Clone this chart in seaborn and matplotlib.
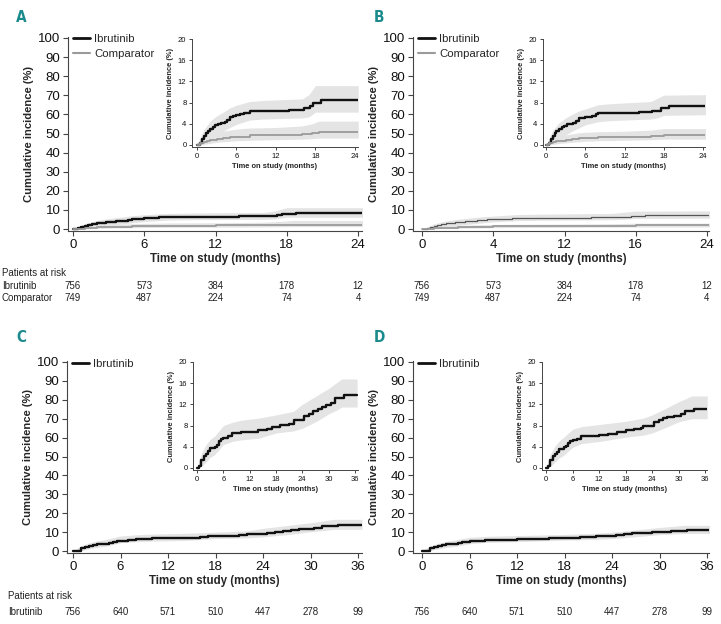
import numpy as np
import pandas as pd
import seaborn as sns
import matplotlib.pyplot as plt
from matplotlib.transforms import blended_transform_factory
from matplotlib.lines import Line2D

sns.set_style("ticks")
plt.rcParams['font.family'] = ['Liberation Sans', 'DejaVu Sans']

# ---------------- data ----------------
# Panel A
A_ibr_t = [0, 0.4, 0.7, 1.0, 1.3, 1.6, 2.0, 2.4, 2.8, 3.2, 3.6, 4.2, 4.6, 5.0, 5.5, 6.0, 6.6, 7.2, 8.0, 14.0, 16.2, 17.2, 17.6, 18.8, 24.5]
A_ibr_y = [0, 0.4, 1.1, 1.7, 2.2, 2.6, 3.0, 3.3, 3.7, 3.9, 4.1, 4.3, 4.8, 5.2, 5.4, 5.6, 5.8, 6.1, 6.4, 6.6, 6.9, 7.3, 7.9, 8.5, 8.5]
A_ibr_band_t = [0, 1, 2, 3, 4, 5, 6, 8, 10, 16, 17, 18, 24.5]
A_ibr_lo = [0, 0.3, 1.2, 2.0, 2.6, 3.3, 3.9, 4.7, 4.9, 5.1, 5.3, 6.2, 6.2]
A_ibr_hi = [0, 2.8, 4.5, 5.5, 6.2, 7.0, 7.5, 8.2, 8.4, 8.7, 9.5, 11.2, 11.2]
A_cmp_t = [0, 0.5, 1, 1.5, 2, 3, 4, 5, 6, 8, 12, 16, 17.5, 18.5, 24.5]
A_cmp_y = [0, 0.3, 0.6, 0.8, 0.9, 1.1, 1.3, 1.5, 1.6, 1.8, 1.9, 2.0, 2.2, 2.4, 2.4]
A_cmp_lo = [0, 0, 0.1, 0.2, 0.3, 0.5, 0.6, 0.7, 0.8, 0.9, 1.0, 1.1, 1.2, 1.3, 1.3]
A_cmp_hi = [0, 1.0, 1.5, 1.8, 2.0, 2.3, 2.6, 2.8, 3.0, 3.2, 3.3, 3.6, 4.0, 4.5, 4.5]

# Panel B
B_ibr_t = [0, 0.4, 0.7, 1.0, 1.3, 1.6, 2.0, 2.4, 2.8, 3.2, 3.6, 4.2, 4.6, 5.0, 5.5, 6.0, 7.0, 7.6, 8.0, 14.2, 16.2, 17.6, 18.8, 24.5]
B_ibr_y = [0, 0.4, 1.1, 1.7, 2.2, 2.6, 3.0, 3.3, 3.6, 3.9, 4.0, 4.2, 4.6, 5.0, 5.1, 5.2, 5.5, 5.8, 6.0, 6.2, 6.4, 7.0, 7.4, 7.4]
B_ibr_band_t = [0, 1, 2, 3, 4, 5, 6, 8, 10, 16, 17, 18, 24.5]
B_ibr_lo = [0, 0.3, 1.1, 1.9, 2.6, 3.2, 3.8, 4.4, 4.6, 4.9, 5.1, 5.6, 5.7]
B_ibr_hi = [0, 2.7, 4.2, 5.1, 5.8, 6.4, 6.8, 7.6, 7.8, 8.2, 8.8, 9.4, 9.5]
B_cmp_t = [0, 0.5, 1, 1.5, 2, 3, 4, 5, 6, 8, 12, 16, 18, 24.5]
B_cmp_y = [0, 0.3, 0.5, 0.7, 0.8, 1.0, 1.2, 1.3, 1.4, 1.5, 1.6, 1.7, 1.9, 1.9]
B_cmp_lo = [0, 0, 0.1, 0.2, 0.3, 0.4, 0.5, 0.6, 0.7, 0.8, 0.9, 1.0, 1.1, 1.1]
B_cmp_hi = [0, 0.9, 1.3, 1.5, 1.7, 1.9, 2.1, 2.3, 2.4, 2.5, 2.6, 2.8, 3.1, 3.1]

# Panel C
C_ibr_t = [0, 0.5, 1, 1.5, 2, 2.5, 3, 4, 4.6, 5, 5.5, 6, 7, 8, 10, 12, 14, 16, 17, 19, 21, 22, 24, 24.5, 25.5, 26.5, 27.5, 28.5, 29.5, 30.5, 31.5, 33.5, 36.5]
C_ibr_y = [0, 0.3, 1.5, 2.2, 2.6, 3.2, 3.7, 4.0, 4.3, 5.0, 5.4, 5.6, 6.0, 6.6, 6.7, 6.8, 7.1, 7.3, 7.8, 8.1, 8.3, 9.0, 9.0, 9.8, 10.2, 10.8, 11.2, 11.5, 11.8, 12.2, 13.2, 13.7, 13.7]
C_ibr_band_t = [0, 1, 2, 3, 4, 6, 8, 10, 14, 18, 22, 24, 27, 30, 32, 33, 36.5]
C_ibr_lo = [0, 0.3, 1.1, 2.0, 2.5, 4.4, 5.0, 5.3, 5.6, 6.6, 7.0, 7.5, 8.7, 10.2, 11.0, 11.5, 11.5]
C_ibr_hi = [0, 2.8, 4.3, 5.4, 6.0, 8.0, 8.6, 9.0, 9.4, 10.0, 10.7, 12.0, 13.5, 15.0, 16.2, 16.8, 16.8]

# Panel D
D_ibr_t = [0, 0.5, 1, 1.5, 2, 2.5, 3, 4, 4.6, 5, 5.5, 6, 7, 8, 12, 14, 16, 18, 20, 21.5, 22, 24, 24.5, 25.5, 26.5, 27.5, 29, 30.5, 31.5, 33.5, 36.5]
D_ibr_y = [0, 0.3, 1.5, 2.2, 2.6, 3.1, 3.6, 3.9, 4.2, 4.8, 5.0, 5.2, 5.5, 6.1, 6.3, 6.5, 6.8, 7.1, 7.3, 7.6, 8.0, 8.0, 8.6, 9.0, 9.4, 9.7, 9.9, 10.2, 10.8, 11.1, 11.1]
D_ibr_band_t = [0, 1, 2, 3, 4, 6, 8, 12, 18, 22, 24, 27, 30, 32, 33, 36.5]
D_ibr_lo = [0, 0.3, 1.1, 1.9, 2.4, 3.9, 4.6, 5.0, 5.8, 6.2, 6.6, 7.6, 8.7, 9.1, 9.3, 9.3]
D_ibr_hi = [0, 2.7, 4.1, 5.1, 5.8, 7.3, 7.8, 8.2, 8.8, 9.4, 10.0, 11.2, 12.5, 13.2, 13.6, 13.6]

# Risk tables
risk_times_AB = [0, 6, 12, 18, 24]
risk_ibr_AB = [756, 573, 384, 178, 12]
risk_cmp_AB = [749, 487, 224, 74, 4]
risk_times_CD = [0, 6, 12, 18, 24, 30, 36]
risk_ibr_CD = [756, 640, 571, 510, 447, 278, 99]

ticks_AB = [0, 6, 12, 18, 24]
ticklabels_A = ['0', '6', '12', '18', '24']
ticklabels_B = ['0', '4', '12', '16', '24']
ticks_CD = [0, 6, 12, 18, 24, 30, 36]
ticklabels_CD = ['0', '6', '12', '18', '24', '30', '36']
inset_yticks = [0, 4, 8, 12, 16, 20]
main_yticks = list(range(0, 101, 10))

# ---------------- figure ----------------
W, H = 721, 624
fig = plt.figure(figsize=(W / 100, H / 100), dpi=100)

def px_axes(l, t, r, b):
    return fig.add_axes([l / W, 1 - b / H, (r - l) / W, (b - t) / H])

BLACK = '#111111'
GREY = '#9a9a9a'
BAND = '#e4e4e4'
SPINE = '#444444'
TEAL = '#1b8a8c'

def band(ax, t, lo, hi):
    ax.fill_between(t, lo, hi, color=BAND, lw=0, zorder=1)

def curve(ax, t, y, color, lw, label=None):
    df = pd.DataFrame({'t': t, 'y': y})
    sns.lineplot(data=df, x='t', y='y', ax=ax, color=color, lw=lw,
                 drawstyle='steps-post', label=label, legend=False,
                 zorder=3)

def style(ax, xlim, ylim, xticks, xticklabels, yticks, fs, lw=0.8, tl=4, pad=2):
    ax.set_xlim(*xlim)
    ax.set_ylim(*ylim)
    ax.set_xticks(xticks)
    ax.set_xticklabels(xticklabels)
    ax.set_yticks(yticks)
    sns.despine(ax=ax)
    for s in ['left', 'bottom']:
        ax.spines[s].set_color(SPINE)
        ax.spines[s].set_linewidth(lw)
    ax.tick_params(labelsize=fs, length=tl, width=lw, color=SPINE,
                   labelcolor='#111111', pad=pad)
    ax.set_facecolor('none')

def main_panel(box, xlim, xticks, xticklabels, series, legend_labels, ibr_color, ibr_lw):
    ax = px_axes(*box)
    for (t, y, bt, lo, hi, kind) in series:
        band(ax, bt, lo, hi)
    for (t, y, bt, lo, hi, kind) in series:
        if kind == 'ibr':
            curve(ax, t, y, ibr_color, ibr_lw)
        else:
            curve(ax, t, y, GREY, 1.3)
    style(ax, xlim, (-1, 100.5), xticks, xticklabels, main_yticks, 9.5, tl=3.5, pad=2)
    ax.set_xlabel('Time on study (months)', fontsize=8.3, fontweight='bold', labelpad=2)
    ax.set_ylabel('Cumulative incidence (%)', fontsize=8.1, fontweight='bold', labelpad=3)
    handles = [Line2D([], [], color=BLACK, lw=2.0)]
    if len(legend_labels) > 1:
        handles.append(Line2D([], [], color=GREY, lw=1.5))
    ax.legend(handles, legend_labels, loc='upper left', bbox_to_anchor=(0.017, 1.013),
              frameon=False, fontsize=8.2, handlelength=1.5, handletextpad=0.35,
              labelspacing=0.4, borderpad=0, borderaxespad=0)
    return ax

def inset_panel(box, xlim, xticks, xticklabels, series):
    ax = px_axes(*box)
    for (t, y, bt, lo, hi, kind) in series:
        band(ax, bt, lo, hi)
    for (t, y, bt, lo, hi, kind) in series:
        if kind == 'ibr':
            curve(ax, t, y, BLACK, 1.7)
        else:
            curve(ax, t, y, GREY, 1.3)
    style(ax, xlim, (-0.38, 20), xticks, xticklabels, inset_yticks, 5.5, lw=0.7, tl=2.5, pad=1.5)
    ax.set_xlabel('Time on study (months)', fontsize=5.4, fontweight='bold', labelpad=2.5)
    ax.set_ylabel('Cumulative incidence (%)', fontsize=5.4, fontweight='bold', labelpad=3)
    return ax

A_series = [(A_ibr_t, A_ibr_y, A_ibr_band_t, A_ibr_lo, A_ibr_hi, 'ibr'),
            (A_cmp_t, A_cmp_y, A_cmp_t, A_cmp_lo, A_cmp_hi, 'cmp')]
B_series = [(B_ibr_t, B_ibr_y, B_ibr_band_t, B_ibr_lo, B_ibr_hi, 'ibr'),
            (B_cmp_t, B_cmp_y, B_cmp_t, B_cmp_lo, B_cmp_hi, 'cmp')]
C_series = [(C_ibr_t, C_ibr_y, C_ibr_band_t, C_ibr_lo, C_ibr_hi, 'ibr')]
D_series = [(D_ibr_t, D_ibr_y, D_ibr_band_t, D_ibr_lo, D_ibr_hi, 'ibr')]

axA = main_panel((68, 37, 362, 231), (-0.42, 24.33), ticks_AB, ticklabels_A, A_series,
                 ['Ibrutinib', 'Comparator'], BLACK, 1.7)
axB = main_panel((413, 37, 709, 231), (-0.76, 24.17), ticks_AB, ticklabels_B, B_series,
                 ['Ibrutinib', 'Comparator'], '#555555', 0.9)
axC = main_panel((67, 361, 362, 553), (-0.76, 36.5), ticks_CD, ticklabels_CD, C_series,
                 ['Ibrutinib'], BLACK, 1.7)
axD = main_panel((413, 361, 709, 553), (-1.14, 36.25), ticks_CD, ticklabels_CD, D_series,
                 ['Ibrutinib'], BLACK, 1.7)

inset_panel((192, 39, 358, 147), (-0.76, 24.46), ticks_AB, ticklabels_A, A_series)
inset_panel((543, 39, 705, 147), (-0.46, 24.3), ticks_AB, ticklabels_A, B_series)
inset_panel((193, 362, 358, 470), (-0.91, 36.7), ticks_CD, ticklabels_CD, C_series)
inset_panel((542, 362, 707, 470), (-0.91, 36.45), ticks_CD, ticklabels_CD, D_series)

# panel letters
for letter, (x, y) in zip('ABCD', [(16, 18), (374, 18), (16, 337), (374, 337)]):
    fig.text(x / W, 1 - y / H, letter, color=TEAL, fontsize=11, fontweight='bold',
             fontstretch='condensed', va='center', ha='left',
             family=['DejaVu Sans'])

# risk tables
RFS = 7
def risk_row(ax, times, values, ypx):
    tr = blended_transform_factory(ax.transData, fig.transFigure)
    for t, v in zip(times, values):
        ax.text(t, 1 - ypx / H, str(v), transform=tr, ha='center', va='center',
                fontsize=RFS, color='#222222', clip_on=False)

fig.text(2 / W, 1 - 273 / H, 'Patients at risk', fontsize=RFS, va='center', ha='left', color='#222222')
fig.text(2 / W, 1 - 286 / H, 'Ibrutinib', fontsize=RFS, va='center', ha='left', color='#222222')
fig.text(2 / W, 1 - 298 / H, 'Comparator', fontsize=RFS, va='center', ha='left', color='#222222')
risk_row(axA, risk_times_AB, risk_ibr_AB, 286)
risk_row(axA, risk_times_AB, risk_cmp_AB, 298)
risk_row(axB, risk_times_AB, risk_ibr_AB, 286)
risk_row(axB, risk_times_AB, risk_cmp_AB, 298)

fig.text(8 / W, 1 - 596 / H, 'Patients at risk', fontsize=RFS, va='center', ha='left', color='#222222')
fig.text(8 / W, 1 - 612 / H, 'Ibrutinib', fontsize=RFS, va='center', ha='left', color='#222222')
risk_row(axC, risk_times_CD, risk_ibr_CD, 612)
risk_row(axD, risk_times_CD, risk_ibr_CD, 612)

fig.savefig('out.png', dpi=100)
